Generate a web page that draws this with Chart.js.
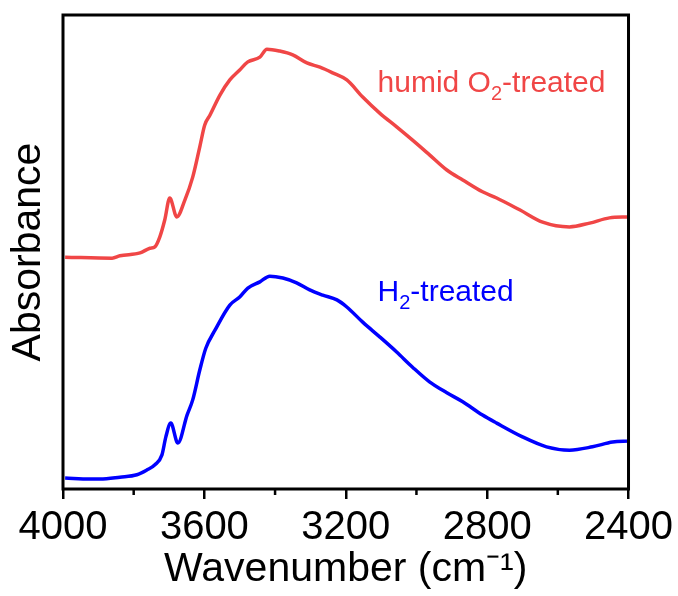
<!DOCTYPE html>
<html>
<head>
<meta charset="utf-8">
<script src="https://cdn.jsdelivr.net/npm/chart.js@4.4.0/dist/chart.umd.min.js"></script>
<style>
  body { margin: 0; background: #fff; }
  #wrap { width: 678px; height: 596px; }
</style>
</head>
<body>
<div id="wrap"><canvas id="ftir" width="678" height="596"></canvas></div>
<script>
// Spectra (wavenumber in cm-1, absorbance in a.u.)
const o2Wn  = [3994, 3861, 3839, 3782, 3754, 3740, 3726, 3712, 3698, 3678, 3655, 3633, 3613, 3599, 3584, 3556, 3528, 3500, 3477, 3443, 3423, 3387, 3350, 3310, 3273, 3237, 3197, 3152, 3104, 3056, 3011, 2963, 2914, 2869, 2813, 2773, 2708, 2643, 2567, 2510, 2454, 2400];
const o2Abs = [0.489, 0.487, 0.492, 0.498, 0.508, 0.511, 0.532, 0.568, 0.614, 0.574, 0.610, 0.658, 0.722, 0.768, 0.789, 0.831, 0.863, 0.884, 0.901, 0.911, 0.928, 0.924, 0.916, 0.899, 0.890, 0.878, 0.863, 0.827, 0.793, 0.764, 0.736, 0.705, 0.673, 0.652, 0.627, 0.614, 0.589, 0.563, 0.553, 0.561, 0.572, 0.574];

const h2Wn  = [3994, 3924, 3895, 3839, 3791, 3763, 3740, 3720, 3709, 3695, 3675, 3649, 3633, 3613, 3596, 3570, 3528, 3500, 3477, 3443, 3415, 3378, 3339, 3302, 3265, 3225, 3197, 3152, 3104, 3056, 3011, 2963, 2914, 2869, 2813, 2773, 2700, 2632, 2567, 2502, 2445, 2400];
const h2Abs = [0.023, 0.021, 0.021, 0.025, 0.030, 0.040, 0.051, 0.072, 0.110, 0.139, 0.097, 0.156, 0.188, 0.251, 0.297, 0.335, 0.388, 0.405, 0.424, 0.437, 0.449, 0.445, 0.435, 0.420, 0.409, 0.399, 0.384, 0.352, 0.321, 0.289, 0.257, 0.226, 0.203, 0.184, 0.156, 0.139, 0.110, 0.089, 0.082, 0.089, 0.099, 0.101];

const majorTicks = [4000, 3600, 3200, 2800, 2400];
const minorTicks = [3800, 3400, 3000, 2600];

const RED = '#f04646';
const BLUE = '#0000ff';
const FONT = "'Liberation Sans', Arial, sans-serif";

function toPoints(xs, ys) {
    return xs.map(function(x, i) { return { x: x, y: ys[i] }; });
}

// frame, minor ticks and the two curve labels
const decorations = {
    id: 'decorations',
    afterDraw: function(chart) {
        const ctx = chart.ctx;
        const a = chart.chartArea;
        const xs = chart.scales.x;
        const ys = chart.scales.y;
        ctx.save();
        ctx.strokeStyle = '#000';
        ctx.lineWidth = 3;
        ctx.strokeRect(a.left, a.top, a.right - a.left, a.bottom - a.top);

        ctx.lineWidth = 2.5;
        minorTicks.forEach(function(v) {
            const px = xs.getPixelForValue(v);
            ctx.beginPath();
            ctx.moveTo(px, a.bottom);
            ctx.lineTo(px, a.bottom + 6);
            ctx.stroke();
        });

        function label(parts, color, wn, abs) {
            let x = xs.getPixelForValue(wn);
            const y = ys.getPixelForValue(abs);
            ctx.fillStyle = color;
            ctx.textBaseline = 'alphabetic';
            ctx.textAlign = 'left';
            parts.forEach(function(p) {
                ctx.font = (p.sub ? '20px ' : '30px ') + FONT;
                ctx.fillText(p.t, x, p.sub ? y + 8 : y);
                x += ctx.measureText(p.t).width;
            });
        }
        label([{ t: 'humid O' }, { t: '2', sub: true }, { t: '-treated' }], RED, 3110, 0.838);
        label([{ t: 'H' }, { t: '2', sub: true }, { t: '-treated' }], BLUE, 3110, 0.397);
        ctx.restore();
    }
};

new Chart(document.getElementById('ftir'), {
    type: 'line',
    data: {
        datasets: [
            {
                label: 'humid O2-treated',
                data: toPoints(o2Wn, o2Abs),
                borderColor: RED,
                borderWidth: 3.5,
                pointRadius: 0,
                cubicInterpolationMode: 'monotone'
            },
            {
                label: 'H2-treated',
                data: toPoints(h2Wn, h2Abs),
                borderColor: BLUE,
                borderWidth: 3.5,
                pointRadius: 0,
                cubicInterpolationMode: 'monotone'
            }
        ]
    },
    options: {
        responsive: false,
        animation: false,
        layout: { padding: { top: 15, right: 49, left: 0, bottom: 0 } },
        plugins: {
            legend: { display: false },
            tooltip: { enabled: false }
        },
        scales: {
            x: {
                type: 'linear',
                reverse: true,
                min: 2400,
                max: 4000,
                afterBuildTicks: function(scale) {
                    scale.ticks = majorTicks.map(function(v) { return { value: v }; });
                },
                afterFit: function(scale) { scale.height = 107; },
                grid: {
                    drawOnChartArea: false,
                    color: '#000',
                    lineWidth: 2.5,
                    tickLength: 10
                },
                border: { display: false },
                ticks: {
                    color: '#000',
                    font: { family: FONT, size: 40 },
                    padding: 5,
                    maxRotation: 0,
                    callback: function(value) { return String(value); }
                },
                title: {
                    display: true,
                    text: 'Wavenumber (cm⁻¹)',
                    color: '#000',
                    font: { family: FONT, size: 41 },
                    padding: { top: 0, bottom: 2 }
                }
            },
            y: {
                min: 0,
                max: 1,
                afterFit: function(scale) { scale.width = 63; },
                grid: { display: false },
                border: { display: false },
                ticks: { display: false },
                title: {
                    display: true,
                    text: 'Absorbance',
                    color: '#000',
                    font: { family: FONT, size: 41 },
                    padding: { top: 4, bottom: 0 }
                }
            }
        }
    },
    plugins: [decorations]
});
</script>
</body>
</html>
